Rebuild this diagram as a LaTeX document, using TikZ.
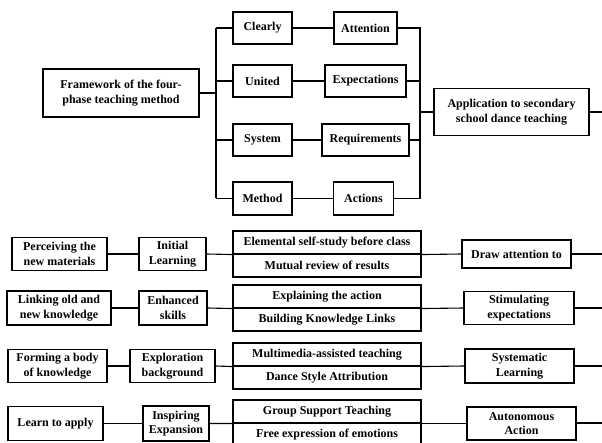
\documentclass[tikz,border=0pt]{standalone}
\usepackage{fontspec}
\setmainfont{Liberation Serif}
\begin{document}
\begin{tikzpicture}[x=1pt,y=-1pt,
  box/.style={draw, line width=1.1pt, inner sep=0pt, align=center,
    font=\bfseries\fontsize{12}{14.5}\selectfont},
  ln/.style={line width=1.1pt},
  thk/.style={line width=2pt}]
\useasboundingbox (0,0) rectangle (602,443);
% ---------- top part ----------
\node[box, minimum width=156, minimum height=48] (fw) at (121,93) {Framework of the four-\\phase teaching method};
\node[box, minimum width=59, minimum height=32] (cl) at (262.5,28) {Clearly};
\node[box, minimum width=59, minimum height=32] (un) at (262.5,81) {United};
\node[box, minimum width=59, minimum height=32] (sy) at (262.5,140) {System};
\node[box, minimum width=59, minimum height=33] (me) at (262.5,198.5) {Method};
\node[box, minimum width=63, minimum height=32] (att) at (365.5,28) {Attention};
\node[box, minimum width=81, minimum height=32] (exp) at (365.5,81) {Expectations};
\node[box, minimum width=87, minimum height=32] (req) at (365.5,140) {Requirements};
\node[box, minimum width=60, minimum height=33] (act) at (363.5,198.5) {Actions};
\node[box, minimum width=155, minimum height=47] (app) at (511.5,112) {Application to secondary\\school dance teaching};
\coordinate (ls) at (216,93);
\coordinate (rs) at (420,112);
\coordinate (ae) at (602,112);
\draw[thk] (fw.east) -- (ls);
\draw[ln] (cl.west -| ls) -- (me.west -| ls);
\foreach \n in {cl,un,sy,me} \draw[ln] (\n.west -| ls) -- (\n.west);
\draw[ln] (cl) -- (att);
\draw[ln] (un) -- (exp);
\draw[ln] (sy) -- (req);
\draw[ln] (me) -- (act);
\foreach \n in {att,exp,req,act} \draw[ln] (\n.east) -| (rs);
\draw[thk] (rs) -- (app.west);
\draw[ln] (app.east) -- (ae);
% ---------- bottom rows ----------
% row 1
\node[box, minimum width=95, minimum height=33] (perc) at (59.5,254) {Perceiving the\\new materials};
\node[box, minimum width=67, minimum height=33] (il) at (172.5,254) {Initial\\Learning};
\node[box, minimum width=188, minimum height=23] (m1a) at (327,242.5) {Elemental self-study before class};
\node[box, minimum width=188, minimum height=23] (m1b) at (327,265.5) {Mutual review of results};
\node[box, minimum width=109, minimum height=28] (dat) at (516.5,254) {Draw attention to};
\coordinate (e1) at (602,254);
\draw[ln] (perc) -- (il);
\draw[ln] (il.east) -- (m1a.south west);
\draw[ln] (m1a.south east) -- (dat.west);
\draw[ln] (dat.east) -- (e1);
% row 2
\node[box, minimum width=104, minimum height=34] (link) at (59,308) {Linking old and\\new knowledge};
\node[box, minimum width=68, minimum height=34] (es) at (173,308) {Enhanced\\skills};
\node[box, minimum width=188, minimum height=23] (m2a) at (327,296.5) {Explaining the action};
\node[box, minimum width=188, minimum height=23] (m2b) at (327,319.5) {Building Knowledge Links};
\node[box, minimum width=110, minimum height=33] (se) at (519,308) {Stimulating\\expectations};
\coordinate (e2) at (602,308);
\draw[ln] (link) -- (es);
\draw[ln] (es.east) -- (m2a.south west);
\draw[ln] (m2a.south east) -- (se.west);
\draw[ln] (se.east) -- (e2);
% row 3
\node[box, minimum width=99, minimum height=33] (form) at (57.5,366) {Forming a body\\of knowledge};
\node[box, minimum width=85, minimum height=33] (eb) at (172.5,366) {Exploration\\background};
\node[box, minimum width=188, minimum height=23] (m3a) at (327,354.5) {Multimedia-assisted teaching};
\node[box, minimum width=188, minimum height=23] (m3b) at (327,377.5) {Dance Style Attribution};
\node[box, minimum width=109, minimum height=34] (sl) at (519.5,366) {Systematic\\Learning};
\coordinate (e3) at (602,366);
\draw[ln] (form) -- (eb);
\draw[ln] (eb.east) -- (m3a.south west);
\draw[ln] (m3a.south east) -- (sl.west);
\draw[ln] (sl.east) -- (e3);
% row 4
\node[box, minimum width=95, minimum height=34] (lta) at (55.5,423.5) {Learn to apply};
\node[box, minimum width=66, minimum height=35] (ie) at (176,423.5) {Inspiring\\Expansion};
\node[box, minimum width=188, minimum height=23] (m4a) at (327,411.5) {Group Support Teaching};
\node[box, minimum width=188, minimum height=24] (m4b) at (327,435) {Free expression of emotions};
\node[box, minimum width=109, minimum height=33] (aa) at (521.5,423.5) {Autonomous\\Action};
\coordinate (e4) at (602,423);
\draw[ln] (lta) -- (ie);
\draw[ln] (ie.east) -- (m4a.south west);
\draw[ln] (m4a.south east) -- (aa.west |- m4a.south east);
\draw[ln] (aa.east |- e4) -- (e4);
\end{tikzpicture}
\end{document}
